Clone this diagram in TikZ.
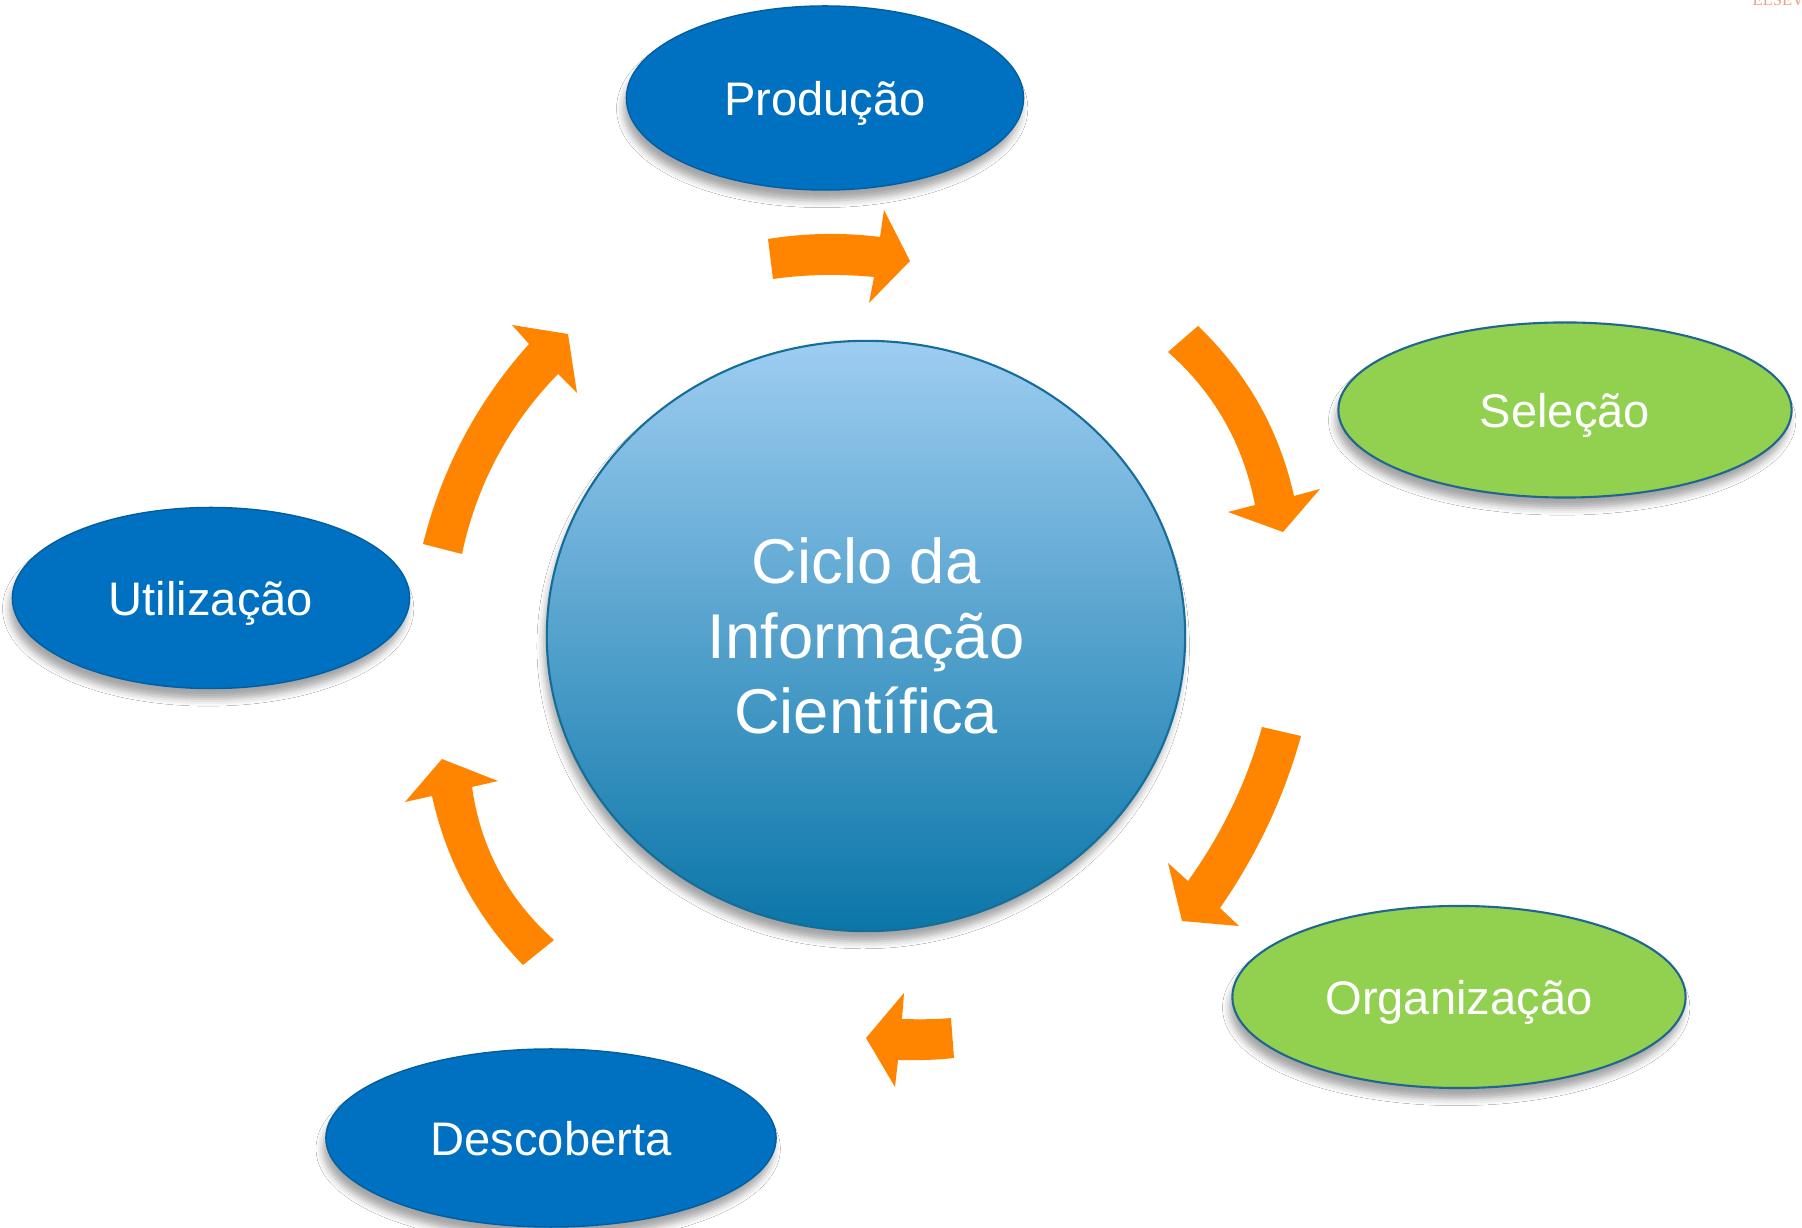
\documentclass[tikz,border=0pt]{standalone}
\usepackage{fontspec}
\setmainfont{Liberation Sans}
\newfontfamily\logofont{Liberation Serif}
\usetikzlibrary{shapes.geometric,shadows.blur}

\definecolor{stageblue}{HTML}{0070C0}
\definecolor{stagegreen}{HTML}{92D050}
\definecolor{stageedge}{HTML}{21668F}
\definecolor{cycleorange}{HTML}{FF8500}
\definecolor{hubtop}{HTML}{9ECDF1}
\definecolor{hubbottom}{HTML}{0A76A8}
\definecolor{hubedge}{HTML}{156E99}
\definecolor{logocolor}{HTML}{E9A27F}

\begin{document}
\begin{tikzpicture}[x=0.01cm,y=-0.01cm,
  stage/.style={ellipse, inner sep=0pt, text=white, text depth=0pt,
    font=\fontsize{13.4}{16}\selectfont,
    blur shadow={shadow xshift=-0.8pt, shadow yshift=-3pt, shadow blur radius=2pt, shadow opacity=35}},
  bluestage/.style={stage, fill=stageblue, draw=stageblue!85!black, line width=0.4pt},
  greenstage/.style={stage, fill=stagegreen, draw=stageedge, line width=0.6pt},
  hub/.style={ellipse, inner sep=0pt, align=center, text=white,
    font=\fontsize{18}{21.4}\selectfont,
    top color=hubtop, bottom color=hubbottom, draw=hubedge, line width=0.6pt,
    blur shadow={shadow xshift=-0.8pt, shadow yshift=-3pt, shadow blur radius=2pt, shadow opacity=35}},
  cyclearrow/.style={fill=cycleorange, draw=none}]
\path[use as bounding box, fill=white] (0,0) rectangle (1802,1228);

% logo, cut by the page edge
\node[anchor=base west, inner sep=0pt, text=logocolor, font=\logofont\fontsize{4.7}{5}\selectfont] (logo) at (1752,6) {ELSEVIER};

% the six curved arrows
\fill[cyclearrow] (768,239) .. controls (805.3,233) and (842.7,232.3) .. (880,237) -- (884,210) -- (910,261) -- (869,303) -- (874,277) .. controls (839.7,273.7) and (806,274.3) .. (773,279) -- cycle;
\fill[cyclearrow] (1198,326) .. controls (1247.3,373.3) and (1279.3,430) .. (1294,496) -- (1320,489) -- (1283,532) -- (1228,512) -- (1255,505) .. controls (1243.3,444) and (1214.3,393) .. (1168,352) -- cycle;
\fill[cyclearrow] (1301,736) .. controls (1284,797.3) and (1257,854.7) .. (1220,908) -- (1239,926) -- (1182,921) -- (1168,863) -- (1188,881) .. controls (1222,833.7) and (1246.7,782.3) .. (1262,727) -- cycle;
\fill[cyclearrow] (951,1018) .. controls (935,1019.5) and (918,1019.5) .. (902,1019) -- (904,993) -- (866,1038) -- (895,1087) -- (898,1060) .. controls (917,1060.5) and (936,1060) .. (954,1058) -- cycle;
\fill[cyclearrow] (554,940) .. controls (508,899) and (480.7,848) .. (472,787) -- (498,781) -- (442,759) -- (405,802) -- (432,796) .. controls (446.3,861) and (476.7,917.3) .. (523,965) -- cycle;
\fill[cyclearrow] (462,554) .. controls (476.7,484.7) and (508.7,424.7) .. (558,374) -- (577,393) -- (568,334) -- (512,325) -- (529,344) .. controls (477.1,401.9) and (441.8,468.5) .. (423,544) -- cycle;

% stages
\node[bluestage, minimum width=3.97cm, minimum height=1.84cm] (prod) at (825,98) {Produção};
\node[greenstage, minimum width=4.53cm, minimum height=1.75cm] (sel) at (1565,410) {Seleção};
\node[greenstage, minimum width=4.53cm, minimum height=1.82cm] (org) at (1459,997) {Organização};
\node[bluestage, minimum width=4.50cm, minimum height=1.78cm] (desc) at (551,1138) {Descoberta};
\node[bluestage, minimum width=3.97cm, minimum height=1.81cm] (util) at (211,598) {Utilização};

% centre
\node[hub, minimum width=6.38cm, minimum height=5.90cm] (ciclo) at (866,636) {Ciclo da\\Informação\\Científica};
\end{tikzpicture}
\end{document}
